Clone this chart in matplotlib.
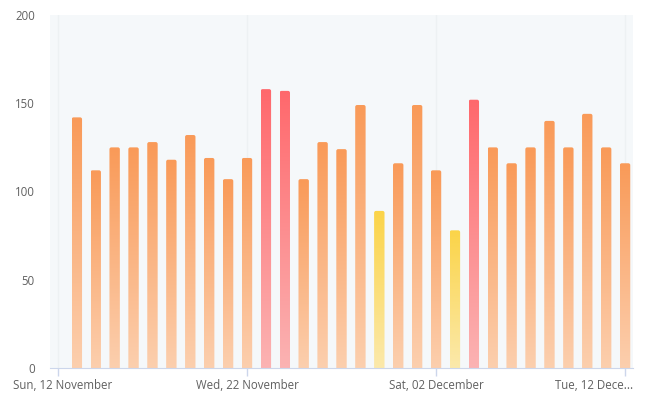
import numpy as np
import pandas as pd
import matplotlib
matplotlib.use('Agg')
import matplotlib.pyplot as plt
import matplotlib.dates as mdates
import matplotlib.transforms as mtrans
from matplotlib.patches import FancyBboxPatch
from matplotlib.colors import to_rgb

# data
dates = pd.date_range('2023-11-13', periods=30, freq='D')
values = [142, 112, 125, 125, 128, 118, 132, 119, 107, 119,
          158, 157, 107, 128, 124, 149, 89, 116, 149, 112,
          78, 152, 125, 116, 125, 140, 125, 144, 125, 116]
tick_dates = pd.to_datetime(['2023-11-12', '2023-11-22', '2023-12-02', '2023-12-12'])
tick_labels = ['Sun, 12 November', 'Wed, 22 November', 'Sat, 02 December', 'Tue, 12 Dece...']

# gradient colour pairs (top, bottom)
ORANGE = ('#f99a58', '#fccfae')
RED = ('#ff686c', '#fbb3b3')
YELLOW = ('#fbd448', '#fbe9ab')


def pick(v):
    if v > 150:
        return RED
    if v < 90:
        return YELLOW
    return ORANGE


fig = plt.figure(figsize=(6.59, 3.99), dpi=100)
ax = fig.add_axes([50 / 659, 31 / 399, 583 / 659, 353 / 399])
ax.set_facecolor('#f5f8fa')

x = mdates.date2num(dates)
xt = mdates.date2num(tick_dates)
ax.set_xlim(xt[0] - 0.42, xt[-1] + 0.42)
ax.set_ylim(0, 200)

w = 0.55
# y-units per px / x-units per px
aspect = (200 / 353) / ((xt[-1] - xt[0] + 0.84) / 583)
for xi, v in zip(x, values):
    top, bot = pick(v)
    t, b = np.array(to_rgb(top)), np.array(to_rgb(bot))
    f = np.linspace(0, 1, 256)[:, None]
    grad = (t * (1 - f) + b * f)[:, None, :]
    grad = np.repeat(grad, 2, axis=1)
    patch = FancyBboxPatch((xi - w / 2, -5), w, v + 5,
                           boxstyle='round,pad=0,rounding_size=0.1',
                           mutation_aspect=aspect, fc='none', ec='none')
    ax.add_patch(patch)
    im = ax.imshow(grad, extent=(xi - w / 2, xi + w / 2, 0, v), aspect='auto',
                   interpolation='bilinear', zorder=2)
    im.set_clip_path(patch)

ax.set_xticks(xt)
ax.set_xticklabels(tick_labels)
ax.set_yticks([0, 50, 100, 150, 200])
ax.grid(axis='x', color='#edf1f3', lw=1)
ax.set_axisbelow(True)

for s in ['top', 'right', 'left']:
    ax.spines[s].set_visible(False)
ax.spines['bottom'].set_color('#ccd6eb')
ax.tick_params(axis='x', colors='#ccd6eb', length=6, width=1, pad=2,
               labelcolor='#606060', labelsize=8.3)
ax.tick_params(axis='y', length=0, pad=11, labelcolor='#606060', labelsize=8.3)
for lab in ax.get_xticklabels() + ax.get_yticklabels():
    lab.set_fontfamily('Open Sans')

# keep the end labels inside the chart, like the reference
xl = ax.get_xticklabels()
xl[0].set_transform(xl[0].get_transform() + mtrans.ScaledTranslation(5 / 100, 0, fig.dpi_scale_trans))
xl[-1].set_horizontalalignment('right')
xl[-1].set_transform(xl[-1].get_transform() + mtrans.ScaledTranslation(8 / 100, 0, fig.dpi_scale_trans))

fig.savefig('out.png', dpi=100, facecolor='white')
